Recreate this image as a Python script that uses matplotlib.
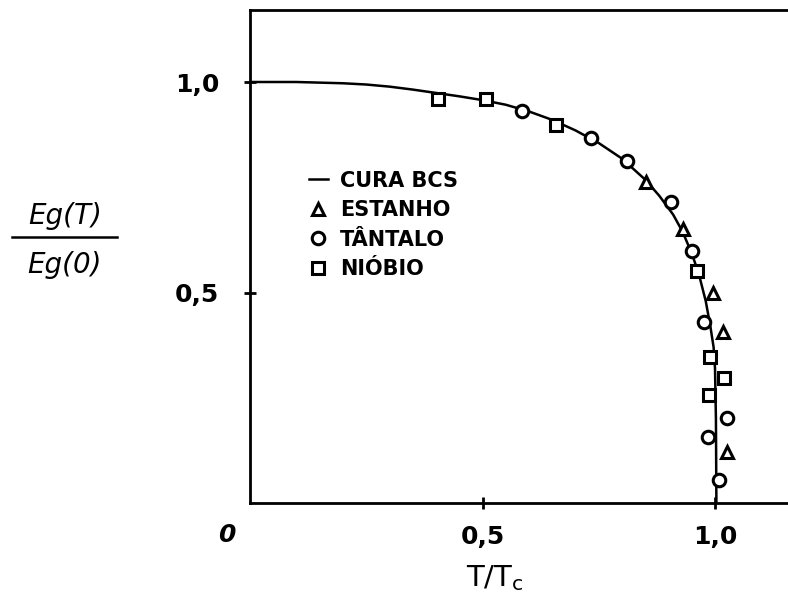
import matplotlib
matplotlib.use("Agg")
import matplotlib.pyplot as plt
from matplotlib.lines import Line2D

# BCS curve
bcs_x = [0.0, 0.1, 0.2, 0.25, 0.3, 0.35, 0.4, 0.45, 0.5, 0.55, 0.6, 0.65, 0.7, 0.75, 0.8,
         0.85, 0.88, 0.91, 0.93, 0.95, 0.965, 0.98, 0.99, 0.997, 1.0, 1.002, 1.003]
bcs_y = [1.0, 1.0, 0.997, 0.994, 0.989, 0.982, 0.974, 0.966, 0.957, 0.946, 0.930, 0.910, 0.885, 0.855, 0.818,
         0.768, 0.730, 0.685, 0.645, 0.593, 0.545, 0.480, 0.42, 0.37, 0.32, 0.2, 0.0]

# Experimental points
estanho_x = [0.852, 0.931, 0.996, 1.017, 1.026]
estanho_y = [0.762, 0.650, 0.500, 0.405, 0.122]
tantalo_x = [0.585, 0.733, 0.811, 0.905, 0.950, 0.976, 1.026, 0.985, 1.009]
tantalo_y = [0.930, 0.868, 0.812, 0.714, 0.598, 0.430, 0.202, 0.157, 0.055]
niobio_x = [0.404, 0.508, 0.658, 0.961, 0.989, 1.019, 0.987]
niobio_y = [0.960, 0.960, 0.899, 0.550, 0.347, 0.297, 0.256]

xticks = [0.5, 1.0]
xtick_labels = ["0,5", "1,0"]
yticks = [0.5, 1.0]
ytick_labels = ["0,5", "1,0"]

fig = plt.figure(figsize=(7.88, 6.0), dpi=100)
ax = fig.add_axes([250/788, 97/600, 538/788, 493/600])
ax.set_xlim(0, 538/465)
ax.set_ylim(0, 493/421)

lw = 1.8
ax.plot(bcs_x, bcs_y, color="black", lw=lw, zorder=2)
mk = dict(linestyle="none", markerfacecolor="white", markeredgecolor="black",
          markeredgewidth=2.2, markersize=9, zorder=3)
ax.plot(estanho_x, estanho_y, marker="^", **mk)
ax.plot(tantalo_x, tantalo_y, marker="o", **mk)
ax.plot(niobio_x, niobio_y, marker="s", **mk)

for s in ["left", "bottom", "top"]:
    ax.spines[s].set_linewidth(2.0)
ax.spines["right"].set_visible(False)

ax.set_xticks(xticks)
ax.set_xticklabels(xtick_labels)
ax.set_yticks(yticks)
ax.set_yticklabels(ytick_labels)
ax.tick_params(direction="inout", length=8, width=2, labelsize=18, colors="black")
ax.tick_params(axis="x", pad=12)
ax.tick_params(axis="y", pad=18)
for lab in ax.get_xticklabels() + ax.get_yticklabels():
    lab.set_fontweight("bold")

ax.text(-0.05, -0.075, "0", transform=ax.transData, fontsize=18, fontstyle="italic",
        fontweight="bold", ha="center", va="center", clip_on=False)

fig.text(495/788, 1 - 578/600, r"T/T$_\mathregular{c}$", fontsize=21, ha="center", va="center")

# y label as fraction
fig.text(65/788, 1 - 216/600, "Eg(T)", fontsize=20, ha="center", va="center", fontstyle="italic")
fig.text(65/788, 1 - 265/600, "Eg(0)", fontsize=20, ha="center", va="center", fontstyle="italic")
fig.add_artist(Line2D([12/788, 117/788], [1 - 237/600, 1 - 237/600], color="black", lw=1.8))

handles = [
    Line2D([], [], color="black", lw=lw),
    Line2D([], [], marker="^", **mk),
    Line2D([], [], marker="o", **mk),
    Line2D([], [], marker="s", **mk),
]
labels = ["CURA BCS", "ESTANHO", "TÂNTALO", "NIÓBIO"]
leg = ax.legend(handles, labels, loc="upper left", bbox_to_anchor=(0.09, 0.695),
                frameon=False, fontsize=15, handlelength=0.9, handletextpad=0.6,
                labelspacing=0.45, borderpad=0)
for t in leg.get_texts():
    t.set_fontweight("bold")

fig.savefig("out.png", dpi=100)
